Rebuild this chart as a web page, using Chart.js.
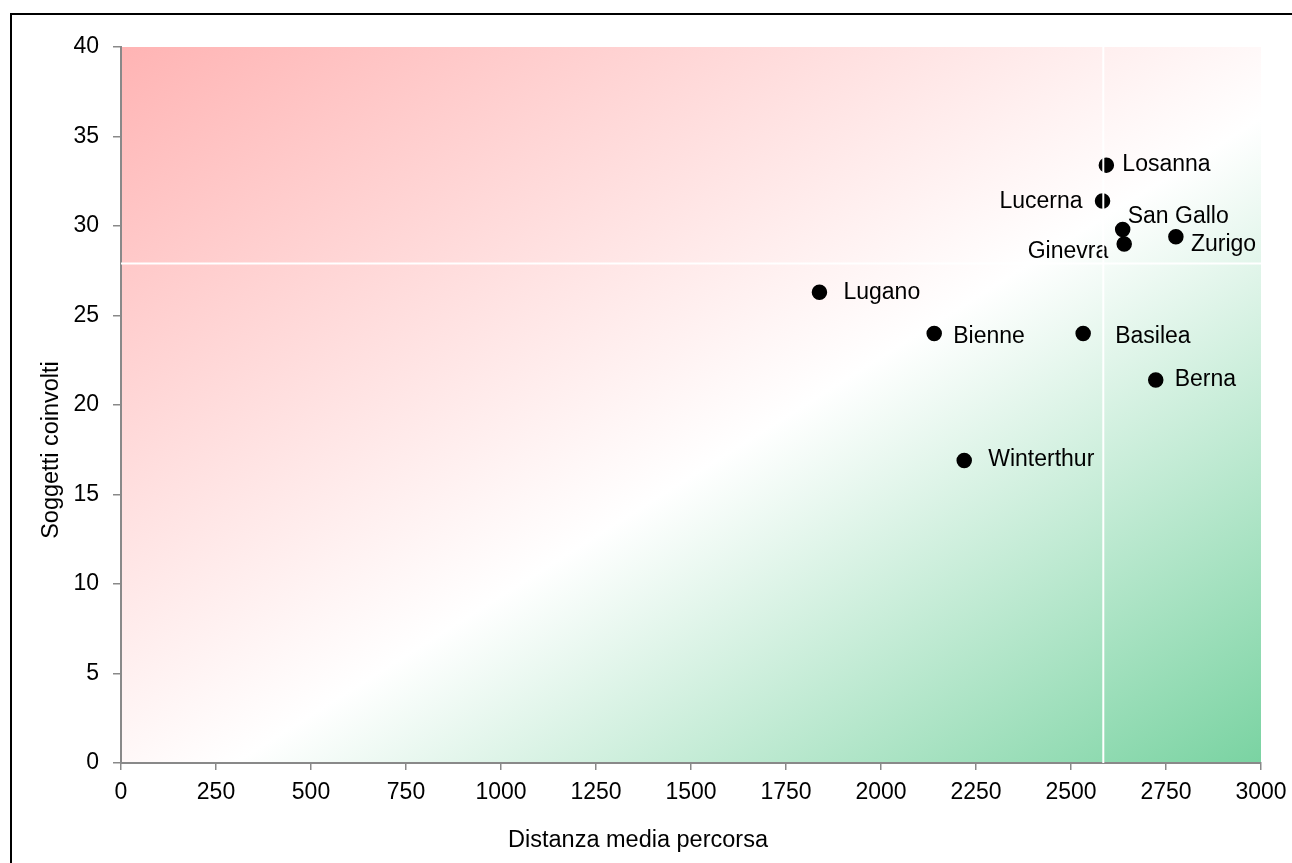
<!DOCTYPE html>
<html lang="it">
<head>
<meta charset="utf-8">
<title>Soggetti coinvolti e distanza media percorsa</title>
<script src="https://cdn.jsdelivr.net/npm/chart.js@4.4.1/dist/chart.umd.min.js"></script>
<style>
  html, body { margin: 0; padding: 0; background: #fff; overflow: hidden; }
  canvas { display: block; }
</style>
</head>
<body>
<canvas id="chart" width="1292" height="863"></canvas>
<script>
// Dati
const cities = ["Losanna", "Lucerna", "San Gallo", "Ginevra", "Zurigo", "Lugano", "Bienne", "Basilea", "Berna", "Winterthur"];
const distanza = [2593, 2583, 2636, 2640, 2776, 1838, 2140, 2532, 2723, 2219];
const soggetti = [33.4, 31.4, 29.8, 29.0, 29.4, 26.3, 24.0, 24.0, 21.4, 16.9];
const mediaDistanza = 2585;
const mediaSoggetti = 27.9;
const xRange = [0, 3000];
const yRange = [0, 40];
const xStep = 250;
const yStep = 5;

// posizione delle etichette rispetto al punto: [dx, dy, allineamento]
const labelPos = [
  [16, 0, "left"], [-20, 1, "right"], [5, -13, "left"], [-16, 8, "right"], [15, 8, "left"],
  [24, 0, "left"], [19, 3, "left"], [32, 3, "left"], [19, 0, "left"], [24, -1, "left"],
];

const FONT = "'Liberation Sans', Arial, sans-serif";
const AXIS_GREY = "#898989";

const points = distanza.map((x, i) => ({ x: x, y: soggetti[i] }));

const backgroundPlugin = {
  id: "sfondo",
  beforeDraw(chart) {
    const { ctx, chartArea: a } = chart;
    ctx.save();
    ctx.fillStyle = "#fff";
    ctx.fillRect(0, 0, chart.width, chart.height);

    const w = a.right - a.left;
    const h = a.bottom - a.top;
    const k = (2 * w * h) / (w * w + h * h);
    const grad = ctx.createLinearGradient(a.left, a.top, a.left + h * k, a.top + w * k);
    grad.addColorStop(0, "#ffb4b4");
    grad.addColorStop(0.55, "#ffffff");
    grad.addColorStop(1, "#7ad3a2");
    ctx.fillStyle = grad;
    ctx.fillRect(a.left, a.top, w, h);

    // cornice
    ctx.strokeStyle = "#000";
    ctx.lineWidth = 2;
    ctx.beginPath();
    ctx.moveTo(11, chart.height + 5);
    ctx.lineTo(11, 14);
    ctx.lineTo(chart.width + 5, 14);
    ctx.stroke();
    ctx.restore();
  },
};

const labelsPlugin = {
  id: "etichette",
  afterDatasetDraw(chart, args) {
    if (args.index !== 0) return;
    const ctx = chart.ctx;
    ctx.save();
    ctx.font = "23px " + FONT;
    ctx.fillStyle = "#000";
    ctx.textBaseline = "middle";
    args.meta.data.forEach((pt, i) => {
      const [dx, dy, align] = labelPos[i];
      ctx.textAlign = align;
      ctx.fillText(cities[i], pt.x + dx, pt.y + dy);
    });
    ctx.restore();
  },
};

const titlesPlugin = {
  id: "titoli",
  afterDraw(chart) {
    const ctx = chart.ctx;
    ctx.save();
    ctx.font = "23.5px " + FONT;
    ctx.fillStyle = "#000";
    ctx.textAlign = "center";
    ctx.textBaseline = "middle";
    ctx.fillText("Distanza media percorsa", 638, 841);
    ctx.translate(52, 450);
    ctx.rotate(-Math.PI / 2);
    ctx.fillText("Soggetti coinvolti", 0, 0);
    ctx.restore();
  },
};

const plainNumber = (value) => String(value);

const chartConfig = {
  type: "scatter",
  data: {
    datasets: [
      {
        label: "Città",
        data: points,
        backgroundColor: "#000",
        borderColor: "#000",
        borderWidth: 1.5,
        pointRadius: 7,
        order: 1,
      },
      {
        type: "line",
        label: "Media distanza",
        data: [{ x: mediaDistanza, y: yRange[0] }, { x: mediaDistanza, y: yRange[1] }],
        borderColor: "#fff",
        borderWidth: 2,
        pointRadius: 0,
        order: 0,
      },
      {
        type: "line",
        label: "Media soggetti",
        data: [{ x: xRange[0], y: mediaSoggetti }, { x: xRange[1], y: mediaSoggetti }],
        borderColor: "#fff",
        borderWidth: 2,
        pointRadius: 0,
        order: 0,
      },
    ],
  },
  options: {
    responsive: false,
    animation: false,
    layout: { padding: { top: 47, right: 31, bottom: 0, left: 0 } },
    plugins: {
      legend: { display: false },
      tooltip: { enabled: false },
    },
    scales: {
      x: {
        type: "linear",
        min: xRange[0],
        max: xRange[1],
        ticks: { stepSize: xStep, autoSkip: false, callback: plainNumber, color: "#000", padding: 9, font: { size: 23, family: FONT } },
        grid: { drawOnChartArea: false, tickLength: 7, color: AXIS_GREY, lineWidth: 1.5 },
        border: { color: AXIS_GREY, width: 2 },
        afterFit(scale) {
          scale.height = 100;
          scale.paddingLeft = 0;
          scale.paddingRight = 0;
        },
      },
      y: {
        type: "linear",
        min: yRange[0],
        max: yRange[1],
        ticks: { stepSize: yStep, autoSkip: false, callback: plainNumber, color: "#000", padding: 14, font: { size: 23, family: FONT } },
        grid: { drawOnChartArea: false, tickLength: 8, color: AXIS_GREY, lineWidth: 1.5 },
        border: { color: AXIS_GREY, width: 2 },
        afterFit(scale) {
          scale.width = 121;
          scale.paddingTop = 0;
          scale.paddingBottom = 0;
        },
      },
    },
  },
  plugins: [backgroundPlugin, labelsPlugin, titlesPlugin],
};

const myChart = new Chart(document.getElementById("chart"), chartConfig);
</script>
</body>
</html>
